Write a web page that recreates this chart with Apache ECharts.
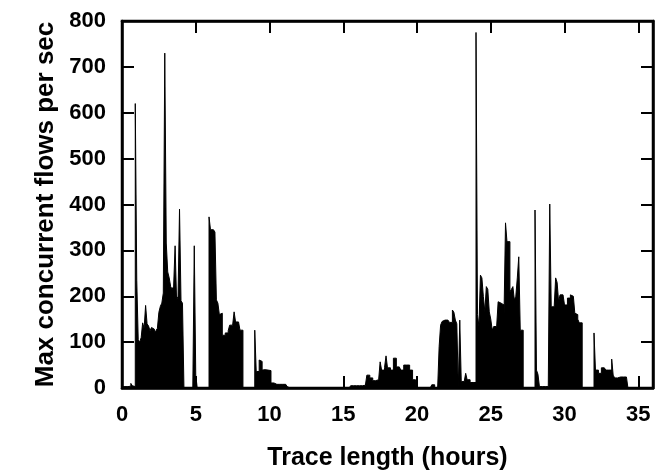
<!DOCTYPE html>
<html>
<head>
<meta charset="utf-8">
<script src="https://cdn.jsdelivr.net/npm/echarts@6/dist/echarts.min.js"></script>
<style>
html,body{margin:0;padding:0;background:#fff;}
#chart{width:661px;height:471px;}
</style>
</head>
<body>
<div id="chart"></div>
<script>
// Max concurrent flows per sec, one value per 0.1-hour bin
var binHours = 0.1;
var hours0to6 = [3,3,3,3,3,4,10,5,3,620, 235,105,100,110,142,130,180,140,135,125, 132,128,120,125,130,165,178,185,207,730, 316,253,240,221,215,222,310,192,200,390, 190,185,0,0,0,0,0,0,0,310, 28,0,0,0,0,0,0,0,0,373];
var hours6to12 = [345,345,345,340,192,185,160,163,115,115, 120,120,125,137,137,140,166,144,144,140, 126,126,0,0,0,0,0,0,0,0, 126,36,36,61,58,39,40,38,39,40, 38,11,11,8,8,8,8,8,8,8, 8,5,3,0,0,0,0,0,0,0];
var hours12to18 = [0,0,0,0,0,0,0,0,0,0, 0,0,0,0,0,0,0,0,0,0, 0,0,0,0,0,0,0,0,0,0, 0,0,0,0,0,5,5,5,5,5, 5,5,5,6,6,6,28,28,22,22, 16,16,16,18,18,57,39,39,45,70];
var hours18to24 = [44,44,39,39,65,65,46,46,46,39, 39,50,50,50,50,39,39,18,18,0, 0,0,0,0,0,0,0,0,0,0, 7,7,0,0,0,90,137,145,148,148, 148,148,143,143,170,165,148,140,0,148, 14,14,14,32,18,18,12,12,12,12];
var hours24to30 = [775,160,134,246,240,199,166,221,215,166, 150,126,134,134,134,188,185,181,181,160, 360,319,319,210,215,221,192,200,240,286, 126,126,0,0,0,0,0,0,0,0, 388,39,30,3,3,3,3,3,3,3, 401,177,177,177,240,230,188,203,203,200];
var hours30to36 = [181,181,196,196,203,200,200,163,160,150, 142,142,0,0,0,0,0,0,0,0, 120,39,39,32,32,44,44,44,39,39, 39,39,63,28,22,22,24,24,24,24, 24,24,20,0,0,0,0,0,0,0, 0,0,0,0,0,0,0,0,0,0];
var xTicks = [0,5,10,15,20,25,30,35];
var yTicks = [0,100,200,300,400,500,600,700,800];

var values = [].concat(hours0to6, hours6to12, hours12to18, hours18to24, hours24to30, hours30to36);
var seriesData = values.map(function (v, i) { return [Math.round(i * binHours * 10) / 10, v]; });

var FONT = '"Liberation Sans", Arial, Helvetica, sans-serif';
function axisLine() { return {show: true, onZero: false, lineStyle: {color: '#000', width: 2.5}}; }
function tick() { return {show: true, inside: true, length: 12, lineStyle: {color: '#000', width: 2}}; }
var lbl = {color: '#000', fontFamily: FONT, fontWeight: 'bold', fontSize: 22};

var chart = echarts.init(document.getElementById('chart'), null, {renderer: 'canvas'});
chart.setOption({
  animation: false,
  backgroundColor: '#fff',
  grid: {left: 122, right: 8, top: 21, bottom: 83, containLabel: false, outerBoundsMode: 'none',
         show: true, borderColor: '#000', borderWidth: 2.5, backgroundColor: 'transparent'},
  xAxis: [{
    type: 'value', min: 0, max: 36, interval: 5, position: 'bottom', gridIndex: 0,
    axisLine: axisLine(), axisTick: tick(), splitLine: {show: false},
    axisLabel: Object.assign({margin: 16, formatter: function (v) { return xTicks.indexOf(v) >= 0 ? String(v) : ''; }}, lbl),
    name: 'Trace length (hours)', nameLocation: 'middle', nameGap: 58,
    nameTextStyle: {color: '#000', fontFamily: FONT, fontWeight: 'bold', fontSize: 25}
  }, {
    type: 'value', min: 0, max: 36, interval: 5, position: 'top', gridIndex: 0,
    axisLine: axisLine(), axisTick: tick(), splitLine: {show: false}, axisLabel: {show: false}
  }],
  yAxis: [{
    type: 'value', min: 0, max: 800, interval: 100, position: 'left', gridIndex: 0,
    axisLine: axisLine(), axisTick: tick(), splitLine: {show: false},
    axisLabel: Object.assign({margin: 16, formatter: function (v) { return yTicks.indexOf(v) >= 0 ? String(v) : ''; }}, lbl),
    name: 'Max concurrent flows per sec', nameLocation: 'middle', nameGap: 60,
    nameTextStyle: {color: '#000', fontFamily: FONT, fontWeight: 'bold', fontSize: 26}
  }, {
    type: 'value', min: 0, max: 800, interval: 100, position: 'right', gridIndex: 0,
    axisLine: axisLine(), axisTick: tick(), splitLine: {show: false}, axisLabel: {show: false}
  }],
  series: [{
    type: 'line', step: 'end', symbol: 'none', xAxisIndex: 0, yAxisIndex: 0,
    data: seriesData,
    lineStyle: {color: '#000', width: 1},
    areaStyle: {color: '#000', opacity: 1}
  }, {
    type: 'line', symbol: 'none', xAxisIndex: 1, yAxisIndex: 1, silent: true,
    data: [[0, 0]], lineStyle: {width: 0, opacity: 0}
  }]
});
</script>
</body>
</html>
